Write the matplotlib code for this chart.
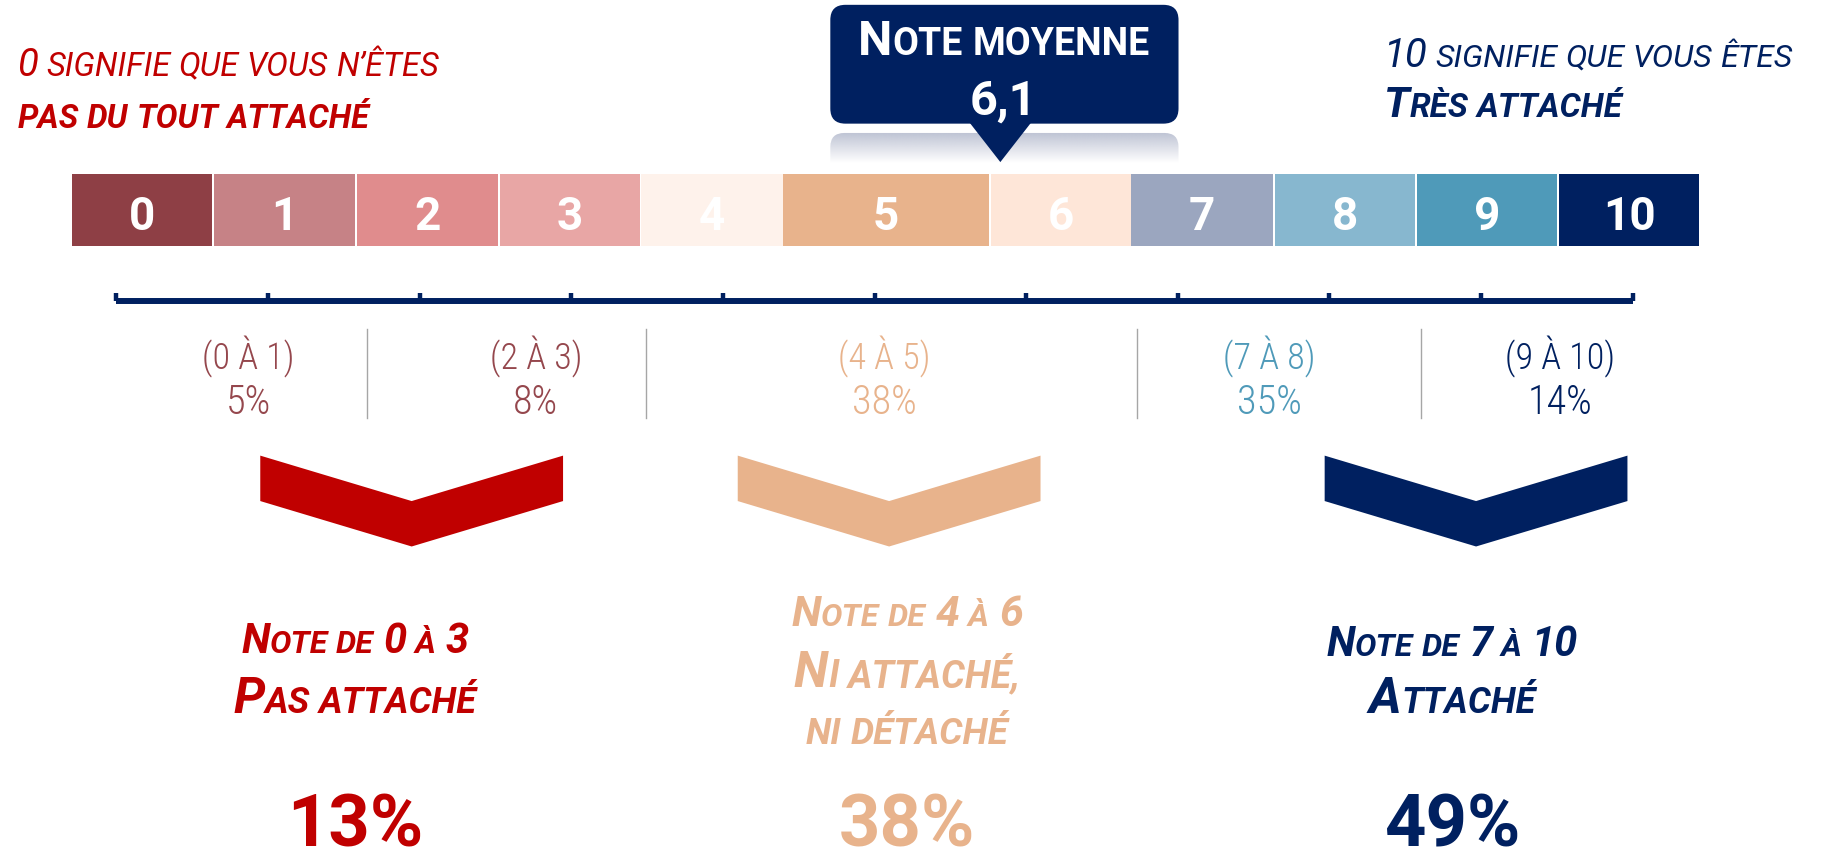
import matplotlib
matplotlib.use("Agg")
import matplotlib.pyplot as plt
from matplotlib import font_manager as fm
from matplotlib.patches import Rectangle, Polygon, FancyBboxPatch
import numpy as np

# ---------------- data ----------------
scores = ["0", "1", "2", "3", "4", "5", "6", "7", "8", "9", "10"]
score_colors = ["#8E3F45", "#C68286", "#E08C8D", "#E8A6A5", "#FEF2EB", "#E8B38C",
                "#FEE6D8", "#9BA6BF", "#87B7CF", "#4F9AB9", "#002060"]
mean_score = 6.1
group_ranges = ["(0 À 1)", "(2 À 3)", "(4 À 5)", "(7 À 8)", "(9 À 10)"]
group_pcts = [5, 8, 38, 35, 14]
group_colors = ["#95474D", "#95474D", "#E8B38C", "#4F9AB9", "#002060"]
summary_titles = [["Note de 0 à 3", "Pas attaché"],
                  ["Note de 4 à 6", "Ni attaché,", "ni détaché"],
                  ["Note de 7 à 10", "Attaché"]]
summary_pcts = [13, 38, 49]
left_note = ["0 signifie que vous n’êtes", "pas du tout attaché"]
right_note = ["10 signifie que vous êtes", "Très attaché"]
mean_label = "Note moyenne"

RED = "#C00000"
BEIGE = "#E8B38C"
NAVY = "#002060"
summary_colors = [RED, BEIGE, NAVY]

# ---------------- fonts ----------------
names = {f.name for f in fm.fontManager.ttflist}
FAM_W = "Roboto" if "Roboto" in names else "DejaVu Sans"
FAM_C = FAM_W
for cand in ["Roboto Condensed", "Liberation Sans Narrow", "Open Sans Condensed"]:
    if cand in names:
        FAM_C = cand
        break

# ---------------- figure ----------------
W, H = 1568, 740
fig = plt.figure(figsize=(18.26, 8.62), dpi=100)
ax = fig.add_axes([0, 0, 1, 1])
ax.set_xlim(0, W)
ax.set_ylim(H, 0)
ax.axis("off")
S = 1826 / W
renderer = fig.canvas.get_renderer()


def measure(txt, size, weight, style, fam):
    t = ax.text(0, 0, txt, fontsize=size, fontweight=weight, fontstyle=style, family=fam)
    w = t.get_window_extent(renderer=renderer).width / S
    t.remove()
    return w


def smallcaps(text, big, small, digits_big):
    pieces = []  # [txt, size, space_before]
    space = False
    for ch in text:
        if ch == " ":
            space = True
            continue
        if ch.islower():
            c, sz = ch.upper(), small
        elif ch.isdigit():
            c, sz = ch, (big if digits_big else small)
        elif ch.isupper():
            c, sz = ch, big
        else:
            c, sz = ch, small
        if pieces and not space and pieces[-1][1] == sz:
            pieces[-1][0] += c
        else:
            pieces.append([c, sz, space])
        space = False
    return pieces


def sc_text(x, y, text, big, small, color, weight="normal", style="normal",
            ha="center", digits_big=True, fam=None, zorder=4):
    fam = fam or FAM_W
    pieces = smallcaps(text, big, small, digits_big)
    widths = []
    for txt, sz, sp in pieces:
        w = measure(txt, sz, weight, style, fam)
        spw = 0
        if sp:
            spw = measure("A A", sz, weight, style, fam) - measure("AA", sz, weight, style, fam)
        widths.append((spw, w))
    total = sum(a + b for a, b in widths)
    if ha == "center":
        x0 = x - total / 2
    elif ha == "left":
        x0 = x
    else:
        x0 = x - total
    for (txt, sz, sp), (spw, w) in zip(pieces, widths):
        x0 += spw
        ax.text(x0, y, txt, fontsize=sz, fontweight=weight, fontstyle=style,
                family=fam, color=color, ha="left", va="baseline", zorder=zorder)
        x0 += w


# ---------------- top notes ----------------
sc_text(15, 65, left_note[0], 27.5, 23.5, RED, style="italic", ha="left")
sc_text(15, 110, left_note[1], 23.5, 23.5, RED, weight="bold", style="italic", ha="left")
sc_text(1188, 57.5, right_note[0], 29, 23, NAVY, style="italic", ha="left")
sc_text(1188, 100.5, right_note[1], 31, 24, NAVY, weight="bold", style="italic", ha="left")

# ---------------- callout ----------------
grad = np.linspace(0.65, 0.0, 64)[:, None]
rgba = np.zeros((64, 2, 4))
rgba[..., 0] = 0x9A / 255
rgba[..., 1] = 0xA2 / 255
rgba[..., 2] = 0xBC / 255
rgba[..., 3] = grad
refl_clip = FancyBboxPatch((713, 115), 299, 40, boxstyle="round,pad=0,rounding_size=12",
                           transform=ax.transData, facecolor="none", edgecolor="none")
ax.add_patch(refl_clip)
im = ax.imshow(rgba, extent=(713, 1012, 141, 115), aspect="auto", zorder=1,
               interpolation="bilinear")
im.set_clip_path(refl_clip)
ax.set_xlim(0, W)
ax.set_ylim(H, 0)

box = FancyBboxPatch((713, 5), 299, 102, boxstyle="round,pad=0,rounding_size=13",
                     facecolor=NAVY, edgecolor="none", zorder=3)
ax.add_patch(box)
ax.add_patch(Polygon([(832.5, 106), (885.5, 106), (859, 140)], closed=True,
                     facecolor=NAVY, edgecolor="none", zorder=3))
sc_text(862, 47, mean_label, 35, 27, "white", weight="bold")
ax.text(862, 98.5, f"{mean_score:.1f}".replace(".", ","), fontsize=35, fontweight="bold",
        family=FAM_W, color="white", ha="center", va="baseline", zorder=4)

# ---------------- colour scale ----------------
cell_left = [62, 184, 306.5, 429.5, 550.5, 672.5, 851, 971.5, 1095, 1217, 1339]
cell_right = [182, 305, 427.5, 549.5, 672, 849.5, 971, 1093, 1215, 1337, 1459]
for lbl, col, l, r in zip(scores, score_colors, cell_left, cell_right):
    ax.add_patch(Rectangle((l, 150), r - l, 62, facecolor=col, edgecolor="none"))
    ax.text((l + r) / 2, 197.5, lbl, fontsize=33, fontweight="bold", family=FAM_W,
            color="white", ha="center", va="baseline")

# ---------------- ruler ----------------
rx0, rx1, ry = 100, 1402, 259.5
ax.plot([rx0, rx1], [ry, ry], color=NAVY, lw=4.3, solid_capstyle="butt")
for i in range(11):
    xx = rx0 + i * (rx1 - rx0) / 10
    ax.plot([xx, xx], [252, ry], color=NAVY, lw=3.2, solid_capstyle="butt")

# ---------------- group labels ----------------
group_x = [213, 460, 759, 1090, 1340]
for x, rng, pct, col in zip(group_x, group_ranges, group_pcts, group_colors):
    ax.text(x, 317.5, rng, fontsize=26, fontweight="light", family=FAM_C, color=col,
            ha="center", va="baseline")
    ax.text(x, 355, f"{pct}%", fontsize=29, fontweight="light", family=FAM_C, color=col,
            ha="center", va="baseline")
for sx in [315, 555, 976, 1220]:
    ax.plot([sx, sx], [283, 360], color="#A6A6A6", lw=1)

# ---------------- chevrons ----------------
chev_cx = [353.5, 763.5, 1267.5]
for cx, col in zip(chev_cx, summary_colors):
    hw = 130
    pts = [(cx - hw, 392), (cx, 431), (cx + hw, 392), (cx + hw, 431),
           (cx, 470), (cx - hw, 431)]
    ax.add_patch(Polygon(pts, closed=True, facecolor=col, edgecolor="none"))

# ---------------- summaries ----------------
sum_x = [305, 779, 1247]
line_specs = [
    [(561, 30, 23), (612, 36, 26)],
    [(537, 31, 23), (590, 36, 27), (639, 26, 26.5)],
    [(563, 30, 23), (612, 36, 26)],
]
for x, titles, specs, col, pct in zip(sum_x, summary_titles, line_specs,
                                      summary_colors, summary_pcts):
    for t, (yb, big, small) in zip(titles, specs):
        sc_text(x, yb, t, big, small, col, weight="bold", style="italic")
    ax.text(x, 727, f"{pct}%", fontsize=52, fontweight="bold", family=FAM_W,
            color=col, ha="center", va="baseline")

fig.savefig("out.png", dpi=100)
